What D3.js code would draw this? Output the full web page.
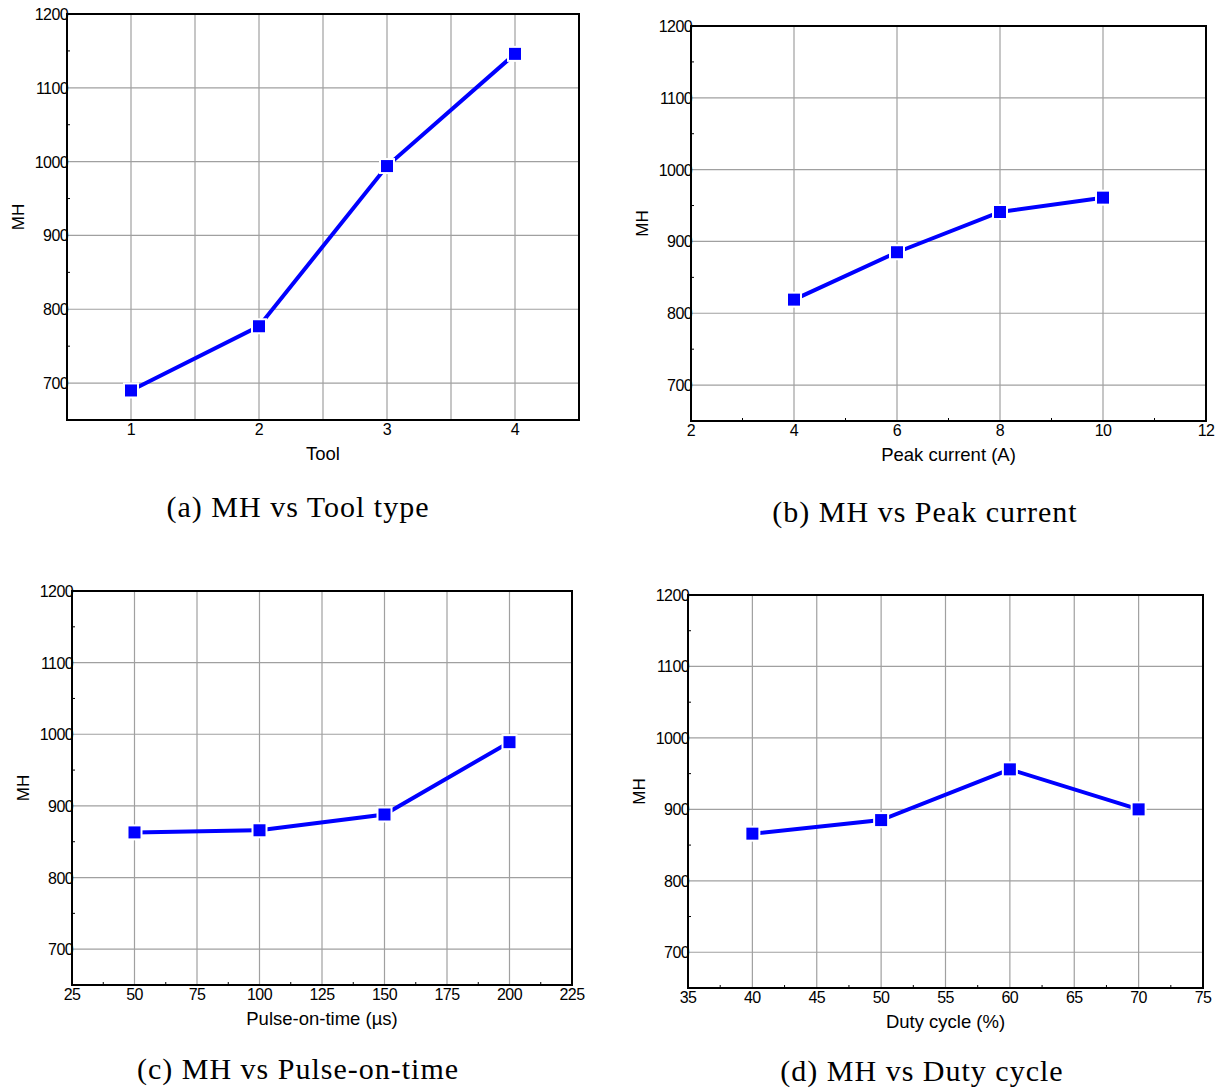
<!DOCTYPE html>
<html>
<head>
<meta charset="utf-8">
<script src="https://cdn.jsdelivr.net/npm/d3@7"></script>
<style>
  body { margin: 0; background: #fff; }
  svg { display: block; }
</style>
</head>
<body>
<svg id="chart" width="1220" height="1089"></svg>
<script>
// data
const toolX = [1, 2, 3, 4];
const toolMH = [690, 777, 994, 1146];

const peakX = [4, 6, 8, 10];
const peakMH = [819, 885, 941, 961];

const pulseX = [50, 100, 150, 200];
const pulseMH = [863, 866, 888, 989];

const dutyX = [40, 50, 60, 70];
const dutyMH = [866, 885, 956, 900];

const yTicks = [700, 800, 900, 1000, 1100, 1200];

const panels = [
    { x: toolX, y: toolMH, box: [67, 14, 579, 420], xDomain: [0.5, 4.5],
      grid: [0.5, 1, 1.5, 2, 2.5, 3, 3.5, 4, 4.5], labels: [1, 2, 3, 4], minor: [],
      xTitle: 'Tool', caption: '(a) MH vs Tool type', cap: [298, 517] },
    { x: peakX, y: peakMH, box: [691, 26, 1206, 421], xDomain: [2, 12],
      grid: [4, 6, 8, 10], labels: [2, 4, 6, 8, 10, 12], minor: [3, 5, 7, 9, 11],
      xTitle: 'Peak current (A)', caption: '(b) MH vs Peak current', cap: [925, 522] },
    { x: pulseX, y: pulseMH, box: [72, 591, 572, 985], xDomain: [25, 225],
      grid: [50, 75, 100, 125, 150, 175, 200], labels: [25, 50, 75, 100, 125, 150, 175, 200, 225],
      minor: [37.5, 62.5, 87.5, 112.5, 137.5, 162.5, 187.5, 212.5],
      xTitle: 'Pulse-on-time (µs)', caption: '(c) MH vs Pulse-on-time', cap: [298, 1079] },
    { x: dutyX, y: dutyMH, box: [688, 595, 1203, 988], xDomain: [35, 75],
      grid: [40, 45, 50, 55, 60, 65, 70], labels: [35, 40, 45, 50, 55, 60, 65, 70, 75],
      minor: [37.5, 42.5, 47.5, 52.5, 57.5, 62.5, 67.5, 72.5],
      xTitle: 'Duty cycle (%)', caption: '(d) MH vs Duty cycle', cap: [922, 1081] }
];

const sans = '"Liberation Sans", Arial, sans-serif';
const svg = d3.select('#chart');

panels.forEach(p => {
    const [x0, y0, x1, y1] = p.box;
    const x = d3.scaleLinear().domain(p.xDomain).range([x0, x1]);
    const y = d3.scaleLinear().domain([650, 1200]).range([y1, y0]);
    const g = svg.append('g');

    // grid
    g.selectAll('.vgrid').data(p.grid).enter().append('line')
        .attr('x1', d => x(d)).attr('x2', d => x(d))
        .attr('y1', y0).attr('y2', y1)
        .attr('stroke', '#a0a0a0').attr('stroke-width', 1.2);
    g.selectAll('.hgrid').data(yTicks.slice(0, -1)).enter().append('line')
        .attr('x1', x0).attr('x2', x1)
        .attr('y1', d => y(d)).attr('y2', d => y(d))
        .attr('stroke', '#a0a0a0').attr('stroke-width', 1.2);

    // frame
    g.append('rect')
        .attr('x', x0).attr('y', y0)
        .attr('width', x1 - x0).attr('height', y1 - y0)
        .attr('fill', 'none').attr('stroke', '#000').attr('stroke-width', 2);

    // minor ticks, inward
    g.selectAll('.ymin').data([750, 850, 950, 1050, 1150]).enter().append('line')
        .attr('x1', x0).attr('x2', x0 + 3)
        .attr('y1', d => y(d)).attr('y2', d => y(d))
        .attr('stroke', '#000').attr('stroke-width', 1);
    g.selectAll('.xmin').data(p.minor).enter().append('line')
        .attr('x1', d => x(d)).attr('x2', d => x(d))
        .attr('y1', y1).attr('y2', y1 - 3)
        .attr('stroke', '#000').attr('stroke-width', 1);

    // tick labels
    g.selectAll('.ylab').data(yTicks).enter().append('text')
        .attr('x', x0 + 1).attr('y', d => y(d) + 6)
        .attr('text-anchor', 'end')
        .style('font', `16px ${sans}`).style('letter-spacing', '-0.6px')
        .text(d => d);
    g.selectAll('.xlab').data(p.labels).enter().append('text')
        .attr('x', d => x(d)).attr('y', y1 + 15)
        .attr('text-anchor', 'middle')
        .style('font', `16px ${sans}`).style('letter-spacing', '-0.6px')
        .text(d => d);

    // titles
    g.append('text')
        .attr('x', (x0 + x1) / 2).attr('y', y1 + 40)
        .attr('text-anchor', 'middle')
        .style('font', `18.5px ${sans}`)
        .text(p.xTitle);
    g.append('text')
        .attr('transform', `translate(${x0 - 43},${(y0 + y1) / 2}) rotate(-90)`)
        .attr('text-anchor', 'middle')
        .style('font', `17px ${sans}`)
        .text('MH');
    g.append('text')
        .attr('x', p.cap[0]).attr('y', p.cap[1])
        .attr('text-anchor', 'middle')
        .style('font', '30px "Liberation Serif", "Times New Roman", serif')
        .style('letter-spacing', '1px')
        .text(p.caption);

    // series
    const pts = p.x.map((v, i) => [v, p.y[i]]);
    const line = d3.line().x(d => x(d[0])).y(d => y(d[1]));
    g.append('path').datum(pts)
        .attr('d', line)
        .attr('fill', 'none').attr('stroke', '#0000ff').attr('stroke-width', 4);
    g.selectAll('.mk').data(pts).enter().append('rect')
        .attr('x', d => x(d[0]) - 6).attr('y', d => y(d[1]) - 6)
        .attr('width', 12).attr('height', 12)
        .attr('fill', '#0000ff').attr('stroke', '#fff').attr('stroke-width', 4)
        .attr('paint-order', 'stroke');
});
</script>
</body>
</html>
